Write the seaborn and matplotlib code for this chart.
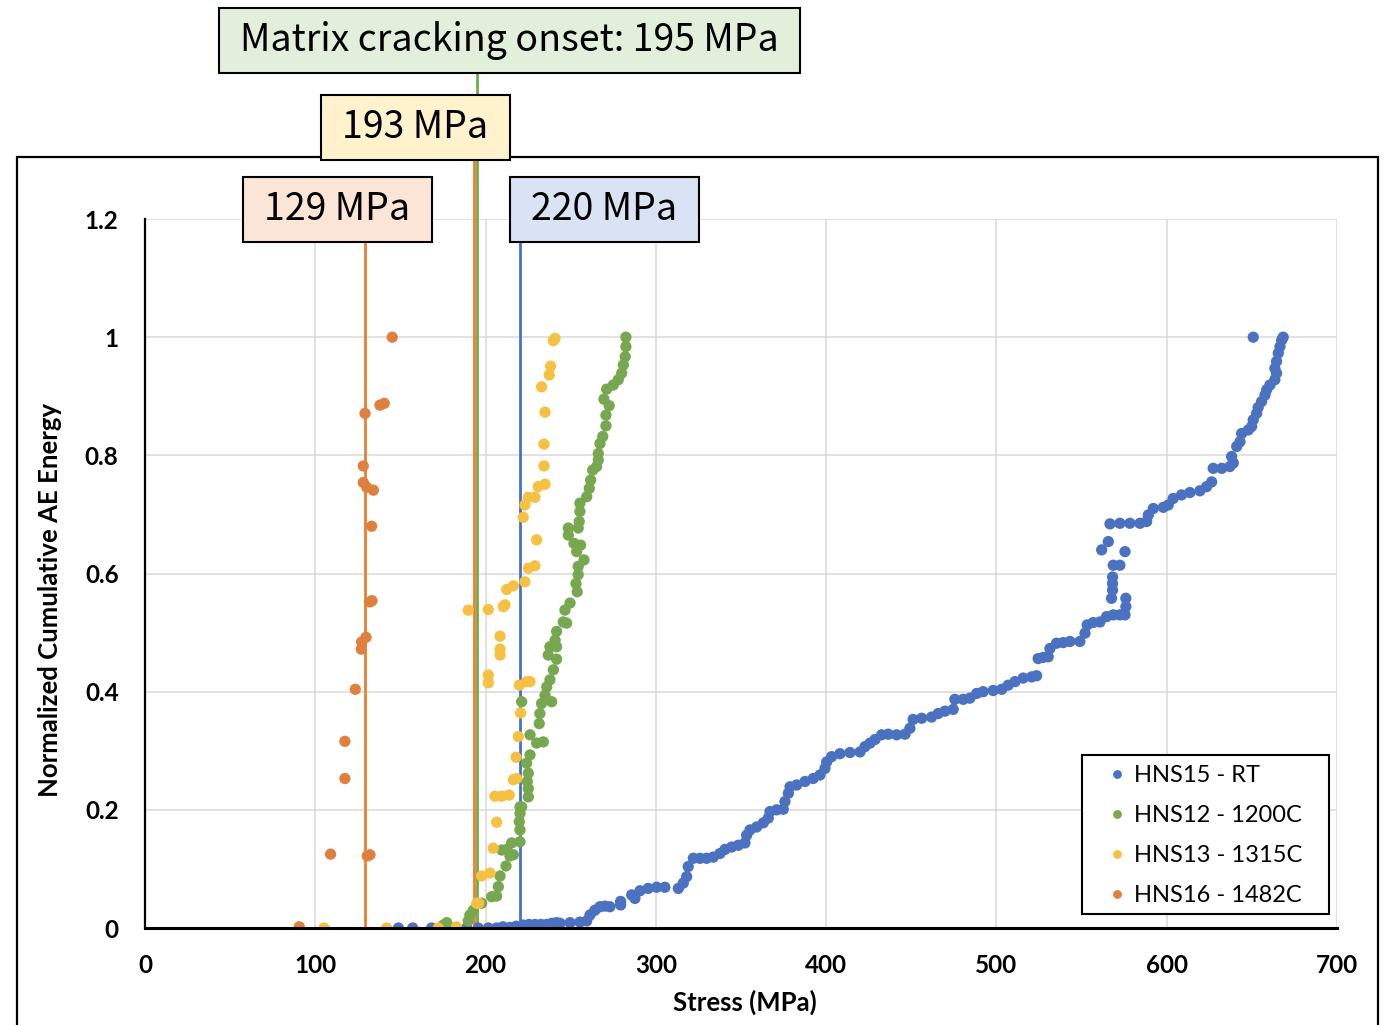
import matplotlib
matplotlib.use("Agg")
import matplotlib.pyplot as plt
import pandas as pd
import seaborn as sns
from matplotlib import font_manager as fm
from matplotlib.patches import Rectangle

# ---- data: stress (MPa) vs normalized cumulative AE energy ----
series_names = ["HNS15 - RT", "HNS12 - 1200C", "HNS13 - 1315C", "HNS16 - 1482C"]

hns15_stress = [148.8, 157.2, 168.3, 188.9, 195.7, 201.6, 206.5, 210.2, 214.3, 217.9, 222.1, 225.5,
                229.0, 232.5, 235.9, 239.0, 241.7, 243.7, 249.6, 255.4, 259.4, 261.3, 264.2, 267.2,
                270.1, 273.0, 279.3, 279.3, 285.8, 287.7, 290.7, 295.5, 300.5, 305.3, 313.2, 316.1,
                318.1, 319.0, 322.0, 325.9, 329.8, 333.7, 337.6, 340.6, 344.5, 348.4, 352.3, 353.3,
                355.3, 359.2, 363.1, 366.0, 367.0, 370.9, 374.8, 375.8, 377.8, 378.8, 382.7, 387.6,
                392.4, 396.4, 399.3, 400.3, 403.2, 408.1, 414.0, 419.9, 422.8, 425.8, 428.7, 432.6,
                436.5, 441.4, 446.3, 449.2, 451.1, 456.1, 461.9, 465.8, 469.8, 474.6, 475.6, 480.5,
                484.4, 488.4, 492.2, 498.1, 503.1, 506.9, 510.9, 515.7, 520.7, 523.6, 524.5, 527.5,
                530.4, 531.4, 535.3, 539.2, 543.2, 549.0, 552.0, 553.3, 556.8, 560.8, 564.7, 568.6,
                572.5, 575.5, 576.0, 576.0, 567.6, 568.2, 568.2, 568.2, 568.6, 572.5, 575.5, 561.8,
                565.7, 566.7, 572.5, 578.4, 584.3, 588.2, 589.2, 592.1, 598.0, 600.9, 603.8, 608.7,
                613.6, 619.5, 623.4, 626.4, 627.3, 632.3, 637.1, 639.1, 638.1, 641.1, 643.0, 644.0,
                647.9, 649.9, 650.8, 652.8, 653.7, 655.7, 657.7, 658.7, 660.6, 663.5, 664.5, 663.5,
                664.5, 665.5, 666.5, 667.5, 668.4, 650.8]
hns15_energy = [0.000, 0.000, 0.000, 0.000, 0.000, 0.000, 0.000, 0.002, 0.001, 0.003, 0.005, 0.006,
                0.006, 0.006, 0.006, 0.008, 0.009, 0.008, 0.009, 0.010, 0.012, 0.022, 0.030, 0.036,
                0.037, 0.036, 0.045, 0.039, 0.056, 0.050, 0.063, 0.067, 0.069, 0.069, 0.067, 0.076,
                0.087, 0.104, 0.118, 0.118, 0.118, 0.120, 0.126, 0.133, 0.137, 0.140, 0.144, 0.157,
                0.166, 0.171, 0.178, 0.186, 0.197, 0.200, 0.201, 0.214, 0.228, 0.239, 0.242, 0.248,
                0.253, 0.259, 0.270, 0.281, 0.290, 0.295, 0.297, 0.298, 0.307, 0.313, 0.319, 0.327,
                0.328, 0.327, 0.328, 0.338, 0.353, 0.355, 0.357, 0.363, 0.367, 0.370, 0.387, 0.387,
                0.389, 0.397, 0.400, 0.402, 0.404, 0.411, 0.417, 0.423, 0.425, 0.427, 0.456, 0.458,
                0.459, 0.473, 0.482, 0.483, 0.485, 0.485, 0.499, 0.513, 0.517, 0.518, 0.527, 0.530,
                0.530, 0.530, 0.544, 0.558, 0.558, 0.572, 0.583, 0.594, 0.614, 0.614, 0.637, 0.640,
                0.654, 0.684, 0.685, 0.685, 0.685, 0.688, 0.699, 0.710, 0.712, 0.716, 0.727, 0.733,
                0.737, 0.740, 0.747, 0.755, 0.778, 0.778, 0.781, 0.787, 0.798, 0.815, 0.823, 0.837,
                0.843, 0.849, 0.860, 0.871, 0.881, 0.891, 0.902, 0.911, 0.919, 0.928, 0.939, 0.947,
                0.959, 0.973, 0.984, 0.995, 1.000, 1.000]

hns12_stress = [175.2, 177.2, 178.1, 189.8, 190.8, 192.8, 197.7, 203.6, 206.5, 207.5, 208.5, 209.5,
                212.0, 212.4, 214.3, 215.3, 216.3, 220.2, 220.2, 220.2, 219.8, 220.2, 221.2, 221.2,
                225.1, 225.1, 224.5, 225.1, 224.1, 226.1, 230.0, 233.9, 226.1, 231.5, 231.9, 232.9,
                238.8, 234.9, 235.9, 237.8, 239.8, 241.7, 236.8, 241.7, 237.8, 240.8, 241.7, 247.6,
                245.6, 246.6, 249.6, 253.8, 253.1, 254.4, 254.4, 257.8, 253.5, 255.8, 251.9, 248.6,
                248.6, 254.4, 255.0, 255.4, 255.4, 259.4, 260.9, 261.7, 262.9, 265.2, 266.2, 266.2,
                267.2, 268.8, 270.7, 270.7, 272.6, 269.5, 271.1, 275.0, 277.9, 279.9, 280.9, 282.0,
                282.4, 282.4]
hns12_energy = [0.005, 0.009, 0.003, 0.012, 0.022, 0.030, 0.042, 0.053, 0.054, 0.070, 0.088, 0.132,
                0.105, 0.133, 0.122, 0.144, 0.124, 0.146, 0.166, 0.194, 0.180, 0.205, 0.205, 0.383,
                0.222, 0.236, 0.248, 0.262, 0.279, 0.293, 0.313, 0.315, 0.327, 0.346, 0.363, 0.380,
                0.383, 0.394, 0.408, 0.420, 0.437, 0.455, 0.462, 0.476, 0.476, 0.487, 0.502, 0.516,
                0.518, 0.538, 0.550, 0.569, 0.583, 0.598, 0.612, 0.623, 0.637, 0.648, 0.651, 0.665,
                0.677, 0.677, 0.688, 0.705, 0.719, 0.730, 0.744, 0.758, 0.775, 0.781, 0.792, 0.803,
                0.820, 0.832, 0.850, 0.868, 0.884, 0.895, 0.912, 0.919, 0.928, 0.939, 0.953, 0.967,
                0.984, 1.000]

hns13_stress = [105.1, 141.9, 172.2, 183.0, 194.8, 196.0, 197.7, 202.6, 204.5, 206.5, 205.5, 209.5,
                213.9, 216.3, 218.3, 217.9, 219.2, 220.6, 219.8, 224.1, 226.1, 201.6, 201.6, 208.5,
                208.5, 208.5, 189.8, 201.6, 210.4, 211.4, 212.4, 216.3, 223.1, 225.1, 229.0, 230.0,
                222.1, 223.1, 225.1, 229.0, 230.9, 234.9, 234.3, 234.3, 234.9, 232.9, 237.4, 238.2,
                239.8, 240.8]
hns13_energy = [0.000, 0.000, 0.000, 0.002, 0.042, 0.042, 0.088, 0.093, 0.135, 0.179, 0.223, 0.223,
                0.225, 0.251, 0.253, 0.289, 0.324, 0.364, 0.411, 0.417, 0.417, 0.415, 0.428, 0.462,
                0.472, 0.494, 0.538, 0.539, 0.544, 0.547, 0.573, 0.579, 0.586, 0.609, 0.613, 0.657,
                0.695, 0.716, 0.729, 0.729, 0.747, 0.751, 0.782, 0.819, 0.873, 0.916, 0.936, 0.951,
                0.994, 0.998]

hns16_stress = [90.6, 109.0, 117.4, 117.4, 123.5, 127.0, 127.2, 129.8, 130.5, 132.1, 132.1, 133.3,
                133.1, 134.1, 130.2, 128.2, 128.2, 129.2, 138.0, 140.5, 145.2]
hns16_energy = [0.002, 0.125, 0.253, 0.316, 0.404, 0.472, 0.484, 0.492, 0.122, 0.124, 0.552, 0.554,
                0.680, 0.741, 0.746, 0.754, 0.782, 0.871, 0.885, 0.888, 1.000]

# onset stresses marked by vertical lines and their labels
onset_values = [129, 193, 195, 220]
onset_labels = ["129 MPa", "193 MPa", "Matrix cracking onset: 195 MPa", "220 MPa"]

x_ticks = [0, 100, 200, 300, 400, 500, 600, 700]
y_ticks = [0, 0.2, 0.4, 0.6, 0.8, 1.0, 1.2]
y_tick_labels = ["0", "0.2", "0.4", "0.6", "0.8", "1", "1.2"]

# ---- styling ----
palette = {"HNS15 - RT": "#4a72c0", "HNS12 - 1200C": "#77a84f",
           "HNS13 - 1315C": "#f6c142", "HNS16 - 1482C": "#e0803f"}
line_colors = ["#ed7d31", "#ed7d31", "#70ad47", "#4472c4"]
box_fills = ["#fbe5d6", "#fff2cc", "#e2efda", "#dae3f3"]
# label boxes (left, top, right, bottom) in pixels
box_px = [(243, 177, 432, 242), (321, 95, 510, 160), (219, 8, 800, 73), (510, 177, 699, 242)]


def _weight_num(w):
    if isinstance(w, str):
        return fm.weight_dict.get(w, 400)
    return int(w)


def first_with_bold(candidates):
    """Pick the first installed family that ships a real bold face."""
    for name in candidates:
        for entry in fm.fontManager.ttflist:
            if entry.name == name and _weight_num(entry.weight) >= 600:
                return name
    return "DejaVu Sans"


sns.set_theme(style="whitegrid")
plt.rcParams['font.family'] = ['Lato', 'DejaVu Sans']
bold_name = first_with_bold(["Lato", "Open Sans", "Roboto", "Noto Sans", "Liberation Sans"])
bold_family = [bold_name, "DejaVu Sans"]
narrow = bold_name in ("Lato", "Roboto")

W, H = 1385, 1025
fig = plt.figure(figsize=(W / 100, H / 100), dpi=100)
ax_left, ax_right, ax_top, ax_bottom = 145, 1337, 219, 928
ax_w, ax_h = ax_right - ax_left, ax_bottom - ax_top
ax = fig.add_axes([ax_left / W, 1 - ax_bottom / H, ax_w / W, ax_h / H])

frames = []
for name, xs, ys in zip(series_names,
                        [hns15_stress, hns12_stress, hns13_stress, hns16_stress],
                        [hns15_energy, hns12_energy, hns13_energy, hns16_energy]):
    frames.append(pd.DataFrame({"stress": xs, "energy": ys, "specimen": name}))
df = pd.concat(frames, ignore_index=True)

sns.scatterplot(data=df, x="stress", y="energy", hue="specimen", hue_order=series_names,
                palette=palette, s=66, linewidth=0, ax=ax, zorder=3)

ax.set_xlim(0, 700)
ax.set_ylim(0, 1.2)
ax.set_xticks(x_ticks)
ax.set_yticks(y_ticks)
ax.set_xticklabels([str(v) for v in x_ticks])
ax.set_yticklabels(y_tick_labels)
ax.tick_params(axis="both", length=0, pad=19)
tick_size = 17.5 if narrow else 16
for lab in ax.get_xticklabels() + ax.get_yticklabels():
    lab.set_family(bold_family)
    lab.set_fontweight("bold")
    lab.set_fontsize(tick_size)
    lab.set_color("black")
ax.grid(True, color="#d9d9d9", linewidth=1.1)
ax.set_facecolor("white")
for side in ["top", "right"]:
    ax.spines[side].set_visible(False)
ax.spines["left"].set_color("black")
ax.spines["left"].set_linewidth(1.6)
ax.spines["bottom"].set_color("black")
ax.spines["bottom"].set_linewidth(2.2)
ax.spines["bottom"].set_zorder(4)

label_size = 18.5 if narrow else 16.5
ax.set_xlabel("Stress (MPa)", fontsize=label_size, fontweight="bold", color="black",
              family=bold_family)
ax.set_ylabel("Normalized Cumulative AE Energy", fontsize=label_size, fontweight="bold",
              color="black", family=bold_family)
ax.xaxis.set_label_coords((745 - ax_left) / ax_w, -(990 - ax_bottom) / ax_h)
ax.yaxis.set_label_coords(-(ax_left - 62) / ax_w, (ax_bottom - 600) / ax_h)

# onset lines, running up to the bottom of their label boxes
px_per_unit = ax_h / 1.2
for val, col, (l, t, r, b) in zip(onset_values, line_colors, box_px):
    top = (ax_bottom - b) / px_per_unit
    ax.plot([val, val], [0, top], color=col, linewidth=2.0, clip_on=False, zorder=2.5)

# legend box, then the legend entries on top of it
ax.add_artist(Rectangle((1082 / W, 1 - 914 / H), (1329 - 1082) / W, (914 - 755) / H,
                        facecolor="white", edgecolor="black", linewidth=1.5,
                        transform=fig.transFigure, clip_on=False, zorder=5))
leg = ax.legend(loc="upper left", bbox_to_anchor=(1108 / W, 1 - 765.5 / H),
                bbox_transform=fig.transFigure, frameon=False,
                fontsize=17, markerscale=0.78, handletextpad=0.28, labelspacing=0.8,
                borderpad=0, handlelength=0.8, borderaxespad=0)
for t in leg.get_texts():
    t.set_color("black")
leg.set_zorder(6)

# outer chart frame
fig.add_artist(Rectangle((17 / W, -0.02), (1378 - 17) / W, 0.02 + 1 - 157 / H, fill=False,
                         edgecolor="black", linewidth=1.6, transform=fig.transFigure, zorder=1))

# label boxes
for text, fill, (l, t, r, b) in zip(onset_labels, box_fills, box_px):
    fig.add_artist(Rectangle((l / W, 1 - b / H), (r - l) / W, (b - t) / H, facecolor=fill,
                             edgecolor="black", linewidth=1.5, transform=fig.transFigure, zorder=5))
    fig.text((l + r) / 2 / W, 1 - (t + b) / 2 / H, text, ha="center", va="center",
             fontsize=27, color="black", family=["Noto Sans CJK KR", "DejaVu Sans"], zorder=6)

fig.savefig("out.png", dpi=100, facecolor="white")
